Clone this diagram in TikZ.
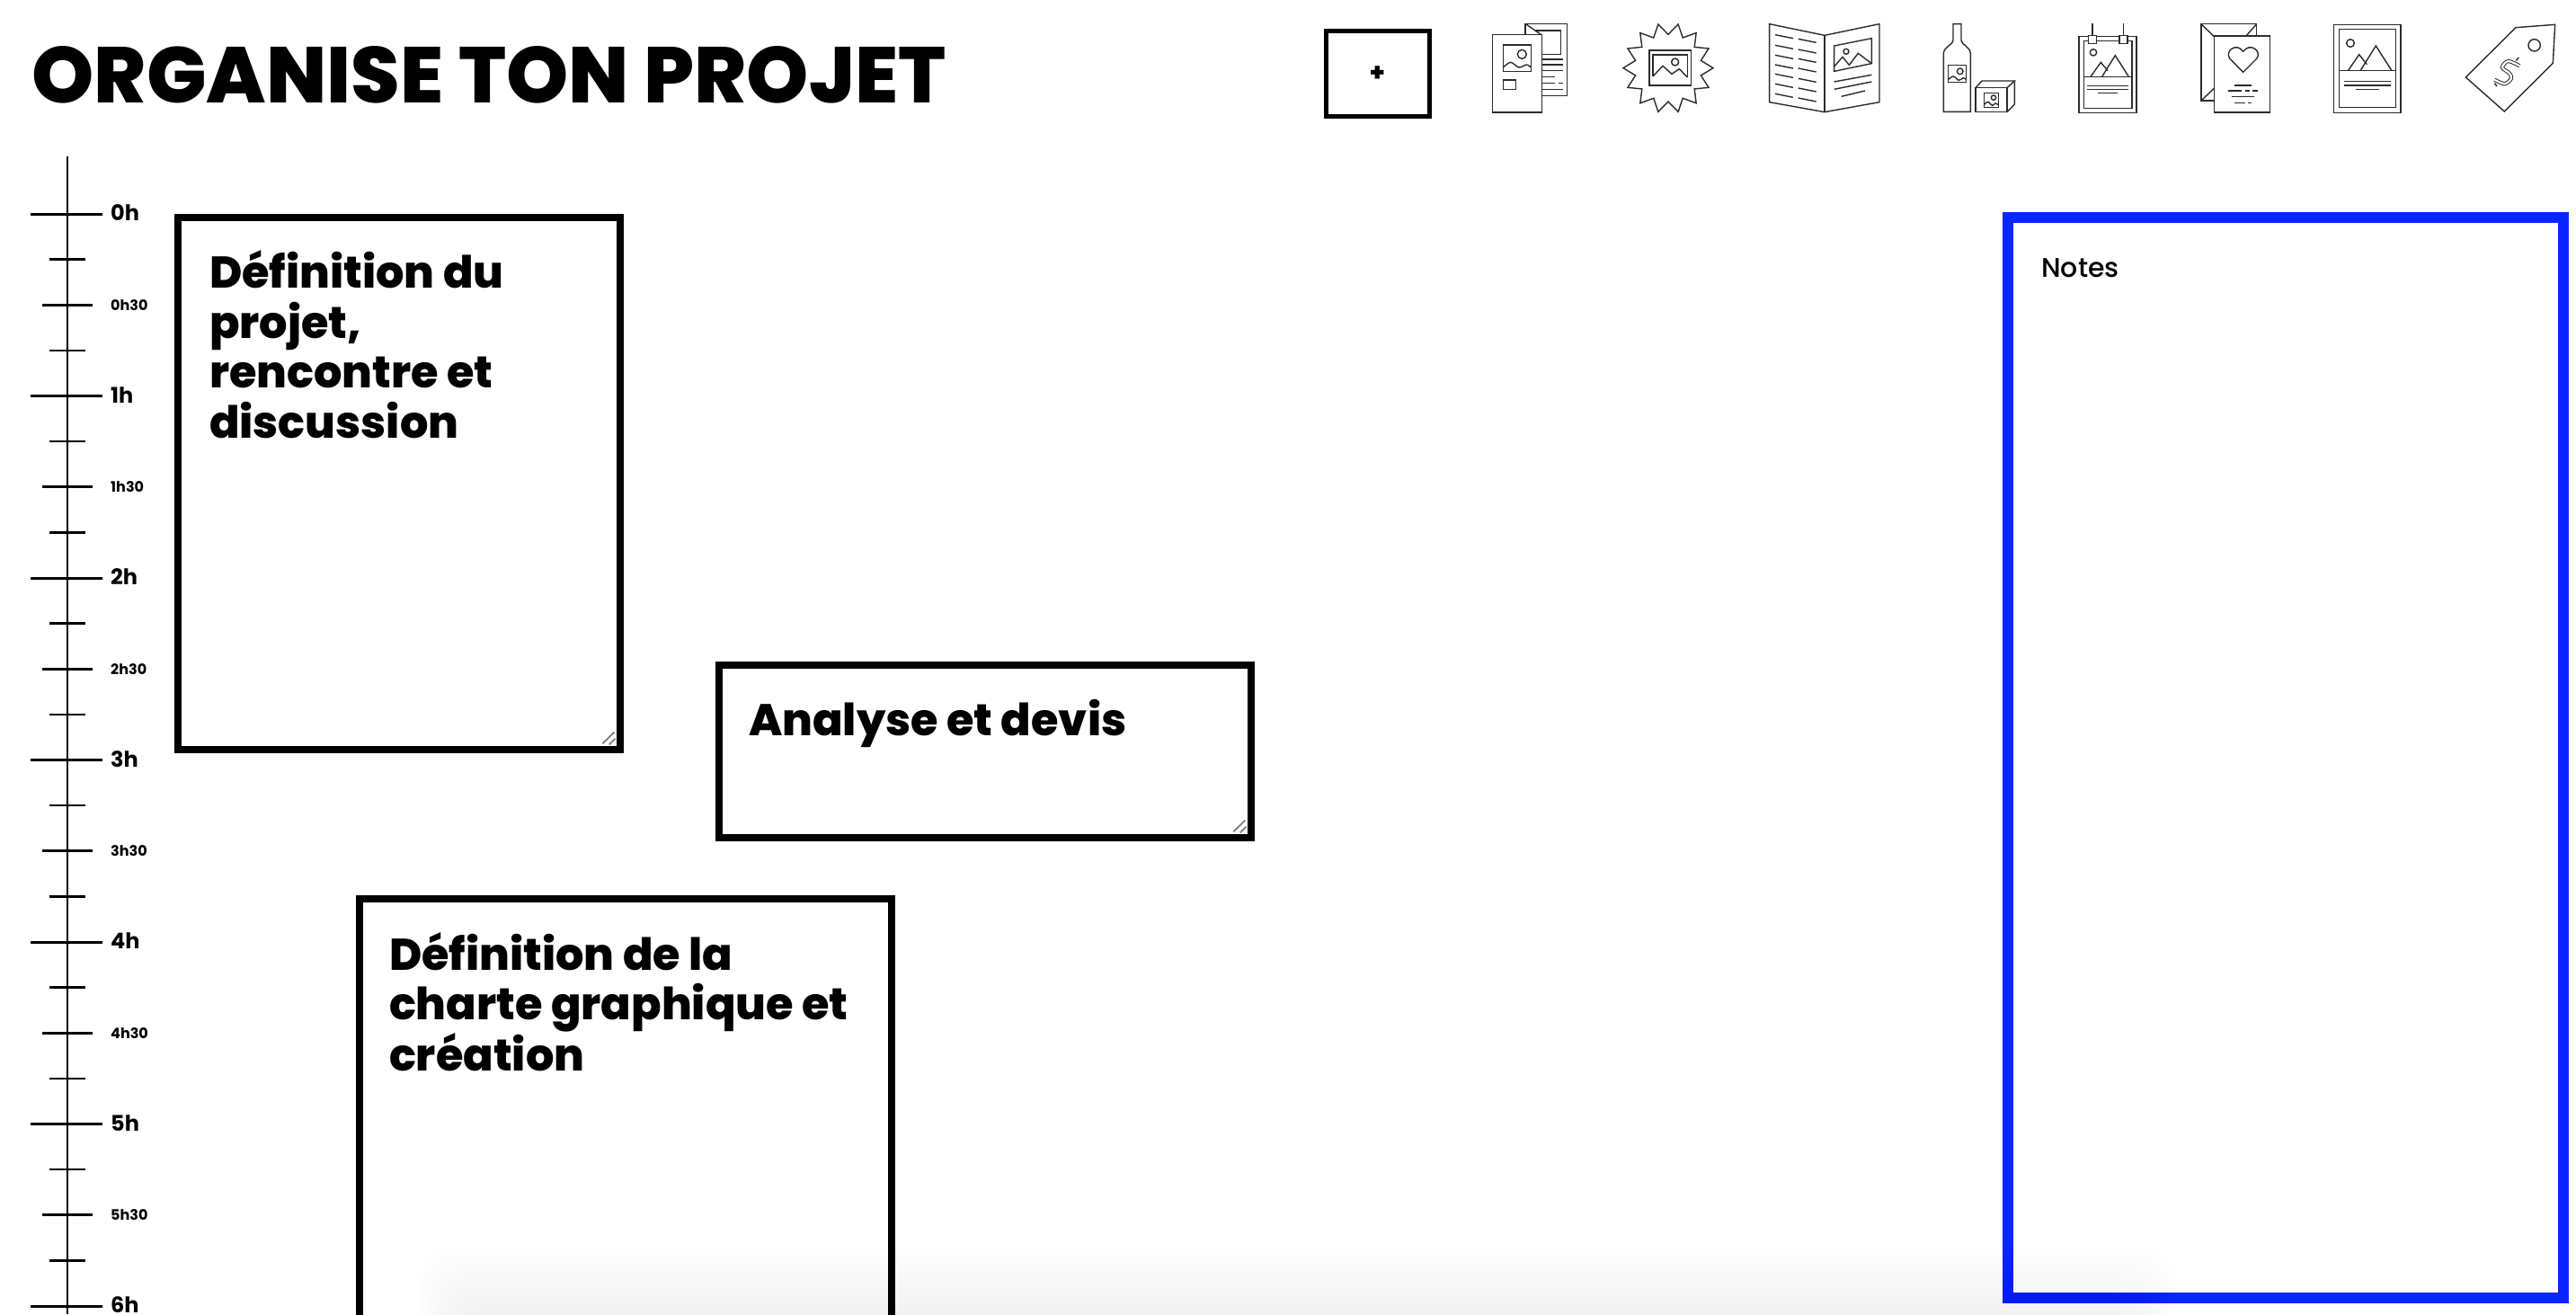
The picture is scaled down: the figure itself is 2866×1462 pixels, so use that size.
\documentclass[tikz,border=0pt]{standalone}
\usepackage{fontspec}
\setmainfont{Poppins}
\newfontfamily\poppinsblack{Poppins ExtraBold}
\newfontfamily\poppinsbold{Poppins Bold}
\newfontfamily\poppinsmedium{Poppins Medium}
\definecolor{bleunotes}{HTML}{0A26FF}
\definecolor{traiticone}{HTML}{2B2B2B}
\tikzset{
  cadre/.style={draw=black,line width=8pt,fill=white,inner sep=0pt,outer sep=0pt,anchor=north west},
  titrecadre/.style={inner sep=0pt,outer sep=0pt,anchor=north west,align=left,font=\poppinsblack\fontsize{49.4}{55.5}\selectfont},
  grip/.style={draw=gray,line width=1.8pt},
  grand/.style={inner sep=0pt,anchor=base west,font=\poppinsbold\fontsize{24}{24}\selectfont},
  petit/.style={inner sep=0pt,anchor=base west,font=\poppinsbold\fontsize{16}{16}\selectfont},
  icone/.style={draw=traiticone,line width=1.4pt,line join=miter},
  zoomA/.style={shift={(1650,10)},x=0.3333pt,y=-0.3333pt},
  zoomB/.style={shift={(2150,10)},x=0.3333pt,y=-0.3333pt},
  zoomC/.style={shift={(2500,10)},x=0.3333pt,y=-0.3333pt},
}
\begin{document}
\begin{tikzpicture}[x=1pt,y=-1pt]
\useasboundingbox[fill=white] (0,0) rectangle (2866,1462);
\node[inner sep=0pt,anchor=base west,font=\poppinsblack\fontsize{88}{88}\selectfont] (titre) at (35.5,114) {ORGANISE TON PROJET};
\node[draw=black,line width=5.5pt,outer sep=0pt,minimum width=115pt,minimum height=95pt,inner sep=0pt] (plusbox) at (1533,82) {};
\node[inner sep=0pt,font=\poppinsblack\fontsize{28}{28}\selectfont] (plus) at (plusbox.center) {+};

\draw[line width=2.5pt] (75,174) -- (75,1462);
\foreach \i in {0,...,6} {
  \pgfmathsetmacro{\ya}{238+202.5*\i}
  \draw[line width=3pt] (34,\ya) -- (114,\ya);
  \node[grand] (h\i) at (123,\ya+7.5) {\i h};
}
\foreach \i in {0,...,5} {
  \pgfmathsetmacro{\ya}{238+202.5*\i}
  \draw[line width=2.5pt] (55,\ya+50.6) -- (95,\ya+50.6);
  \draw[line width=3pt] (47,\ya+101.25) -- (103,\ya+101.25);
  \draw[line width=2.5pt] (55,\ya+151.9) -- (95,\ya+151.9);
  \node[petit] (d\i) at (123,\ya+107) {\i h30};
}

\node[cadre,minimum width=492pt,minimum height=592pt] (projet) at (198,242) {};
\node[cadre,minimum width=592pt,minimum height=192pt] (devis) at (800,740) {};
\node[cadre,minimum width=592pt,minimum height=592pt] (charte) at (400,1000) {};
\node[titrecadre] (tprojet) at (233,279) {Définition du\\projet,\\rencontre et\\discussion};
\node[titrecadre] (tdevis) at (833,778) {Analyse et devis};
\node[titrecadre] (tcharte) at (433,1037) {Définition de la\\charte graphique et\\création};
\draw[grip] (670.3,827.3) -- (683.3,814.7);
\draw[grip] (677.7,828.3) -- (684.7,821.7);
\draw[grip] (1372.3,925.3) -- (1385.3,912.7);
\draw[grip] (1379.7,926.3) -- (1386.7,919.7);

\node[draw=bleunotes,line width=12pt,fill=white,inner sep=0pt,outer sep=0pt,anchor=north west,minimum width=618pt,minimum height=1202pt] (notes) at (2234,242) {};
\node[inner sep=0pt,anchor=base west,font=\poppinsmedium\fontsize{30}{30}\selectfont] (tnotes) at (2271,308) {Notes};

\begin{scope}[zoomA]
\draw[icone] (141,85) -- (141,49) -- (280,49) -- (280,289) -- (197,289);
\draw[icone] (141,49) -- (197,88);
\draw[icone] (175,72) -- (260,72) -- (260,151) -- (197,151);
\foreach \y in {168,186,206,268} \draw[icone] (197,\y) -- (268,\y);
\draw[icone] (197,227) -- (240,227);
\draw[icone] (197,247) -- (240,247) (252,247) -- (268,247);
\draw[icone,fill=white] (31,85) rectangle (197,345);
\draw[icone] (67,120) rectangle (161,208);
\draw[icone] (130,151) circle (15);
\draw[icone] plot[smooth] coordinates {(67,195) (92,178) (120,195) (145,186) (161,195)};
\draw[icone] (67,237) rectangle (110,268);
\begin{scope}[shift={(618,197)}]
\draw[icone] plot[samples at={0,...,27}] (\x*360/28:{ifthenelse(mod(\x,2)==0,150,112)}) -- cycle;
\end{scope}
\draw[icone,line width=1.6pt] (555,138) rectangle (694,255);
\draw[icone] (567,225) -- (567,153) -- (682,153) -- (682,228);
\draw[icone] (567,225) -- (600,190) -- (630,217) -- (655,200) -- (682,228);
\draw[icone] (641,177) circle (12);
\draw[icone] (956,50) -- (1140,88) -- (1323,50) -- (1323,311) -- (1140,344) -- (956,311) -- cycle;
\draw[icone] (1140,88) -- (1140,344);
\foreach \y in {86,121,154,186,217,250,283} \draw[icone] (975,\y) -- (1035,\y+12);
\foreach \y in {100,135,166,198,232,264,297} \draw[icone] (1052,\y) -- (1112,\y+12);
\draw[icone] (1172,123) -- (1297,98) -- (1297,182) -- (1172,208) -- cycle;
\draw[icone] (1172,192) -- (1200,160) -- (1222,187) -- (1252,148) -- (1297,182);
\draw[icone] (1212,142) circle (9);
\draw[icone] (1172,243) -- (1297,220);
\draw[icone] (1172,268) -- (1297,243);
\draw[icone] (1196,292) -- (1275,273);
\end{scope}

\begin{scope}[zoomB]
\draw[icone] (37,343) -- (37,150) .. controls (37,125) and (69,120) .. (69,105) -- (69,50) -- (96,50) -- (96,105) .. controls (96,120) and (127,125) .. (127,150) -- (127,343) -- cycle;
\draw[icone] (53,188) rectangle (112,245);
\draw[icone] (92,208) circle (10);
\draw[icone] plot[smooth] coordinates {(53,235) (70,225) (88,238) (103,230) (112,235)};
\draw[icone] (144,263) rectangle (249,344);
\draw[icone] (144,263) -- (165,240) -- (274,240) -- (249,263);
\draw[icone] (274,240) -- (274,318) -- (249,344);
\draw[icone] (172,281) rectangle (220,328);
\draw[icone] (204,296) circle (8);
\draw[icone] plot[smooth] coordinates {(172,320) (185,310) (200,322) (210,315) (220,320)};
\draw[icone] (489,92) rectangle (681,346);
\draw[icone] (505,107) rectangle (666,332);
\draw[icone] (534,48) -- (534,90);
\draw[icone] (637,48) -- (637,90);
\draw[icone,fill=white] (521,89) rectangle (548,116);
\draw[icone,fill=white] (624,89) rectangle (651,116);
\draw[icone] (537,145) circle (11);
\draw[icone,line width=1.6pt] (505,226) -- (666,226);
\draw[icone] (528,226) -- (562,178) -- (585,206);
\draw[icone] (566,226) -- (610,155) -- (655,226);
\draw[icone] (517,256) -- (653,256);
\draw[icone] (517,268) -- (653,268);
\draw[icone] (551,280) -- (618,280);
\draw[icone] (940,306) -- (897,306) -- (897,50) -- (1082,50) -- (1082,90);
\draw[icone] (897,50) -- (940,92);
\draw[icone] (1082,50) -- (1047,90);
\draw[icone] (897,306) -- (940,265);
\draw[icone] (940,90) rectangle (1126,345);
\draw[icone] (1037,211) -- (992,165) .. controls (975,140) and (1015,110) .. (1037,142) .. controls (1060,110) and (1100,140) .. (1083,165) -- cycle;
\draw[icone] (1008,255) -- (1066,255);
\draw[icone] (988,273) -- (1033,273) (1045,273) -- (1058,273) (1068,273) -- (1085,273);
\draw[icone] (998,293) -- (1075,293);
\draw[icone] (1008,314) -- (1043,314) (1052,314) -- (1065,314);
\end{scope}

\begin{scope}[zoomC]
\draw[icone,line width=1.6pt] (290,52) rectangle (513,346);
\draw[icone,line width=1.6pt] (307,68) rectangle (497,329);
\draw[icone] (345,114) circle (13);
\draw[icone,line width=1.6pt] (307,206) -- (497,206);
\draw[icone] (337,206) -- (374,152) -- (400,185);
\draw[icone] (378,206) -- (430,123) -- (483,206);
\draw[icone] (323,241) -- (480,241);
\draw[icone] (323,255) -- (480,255);
\draw[icone] (362,269) -- (440,269);
\draw[icone] (897,62) -- (1028,52) -- (1021,181) -- (859,342) -- (730,228) -- cycle;
\draw[icone] (959,121) circle (20);
\draw[icone,line width=1pt,double=white,double distance=2.2pt] plot[smooth] coordinates {(910,190) (872,174) (852,195) (876,215) (882,232) (860,250) (826,236)};
\draw[icone] (898,172) -- (907,162);
\draw[icone] (826,248) -- (834,258);
\end{scope}

\foreach \i in {0,...,13}
  \fill[black,opacity=0.005,rounded corners=40pt] (465+3.5*\i,1386+6*\i) rectangle (2421-4.5*\i,1560);
\end{tikzpicture}
\end{document}
